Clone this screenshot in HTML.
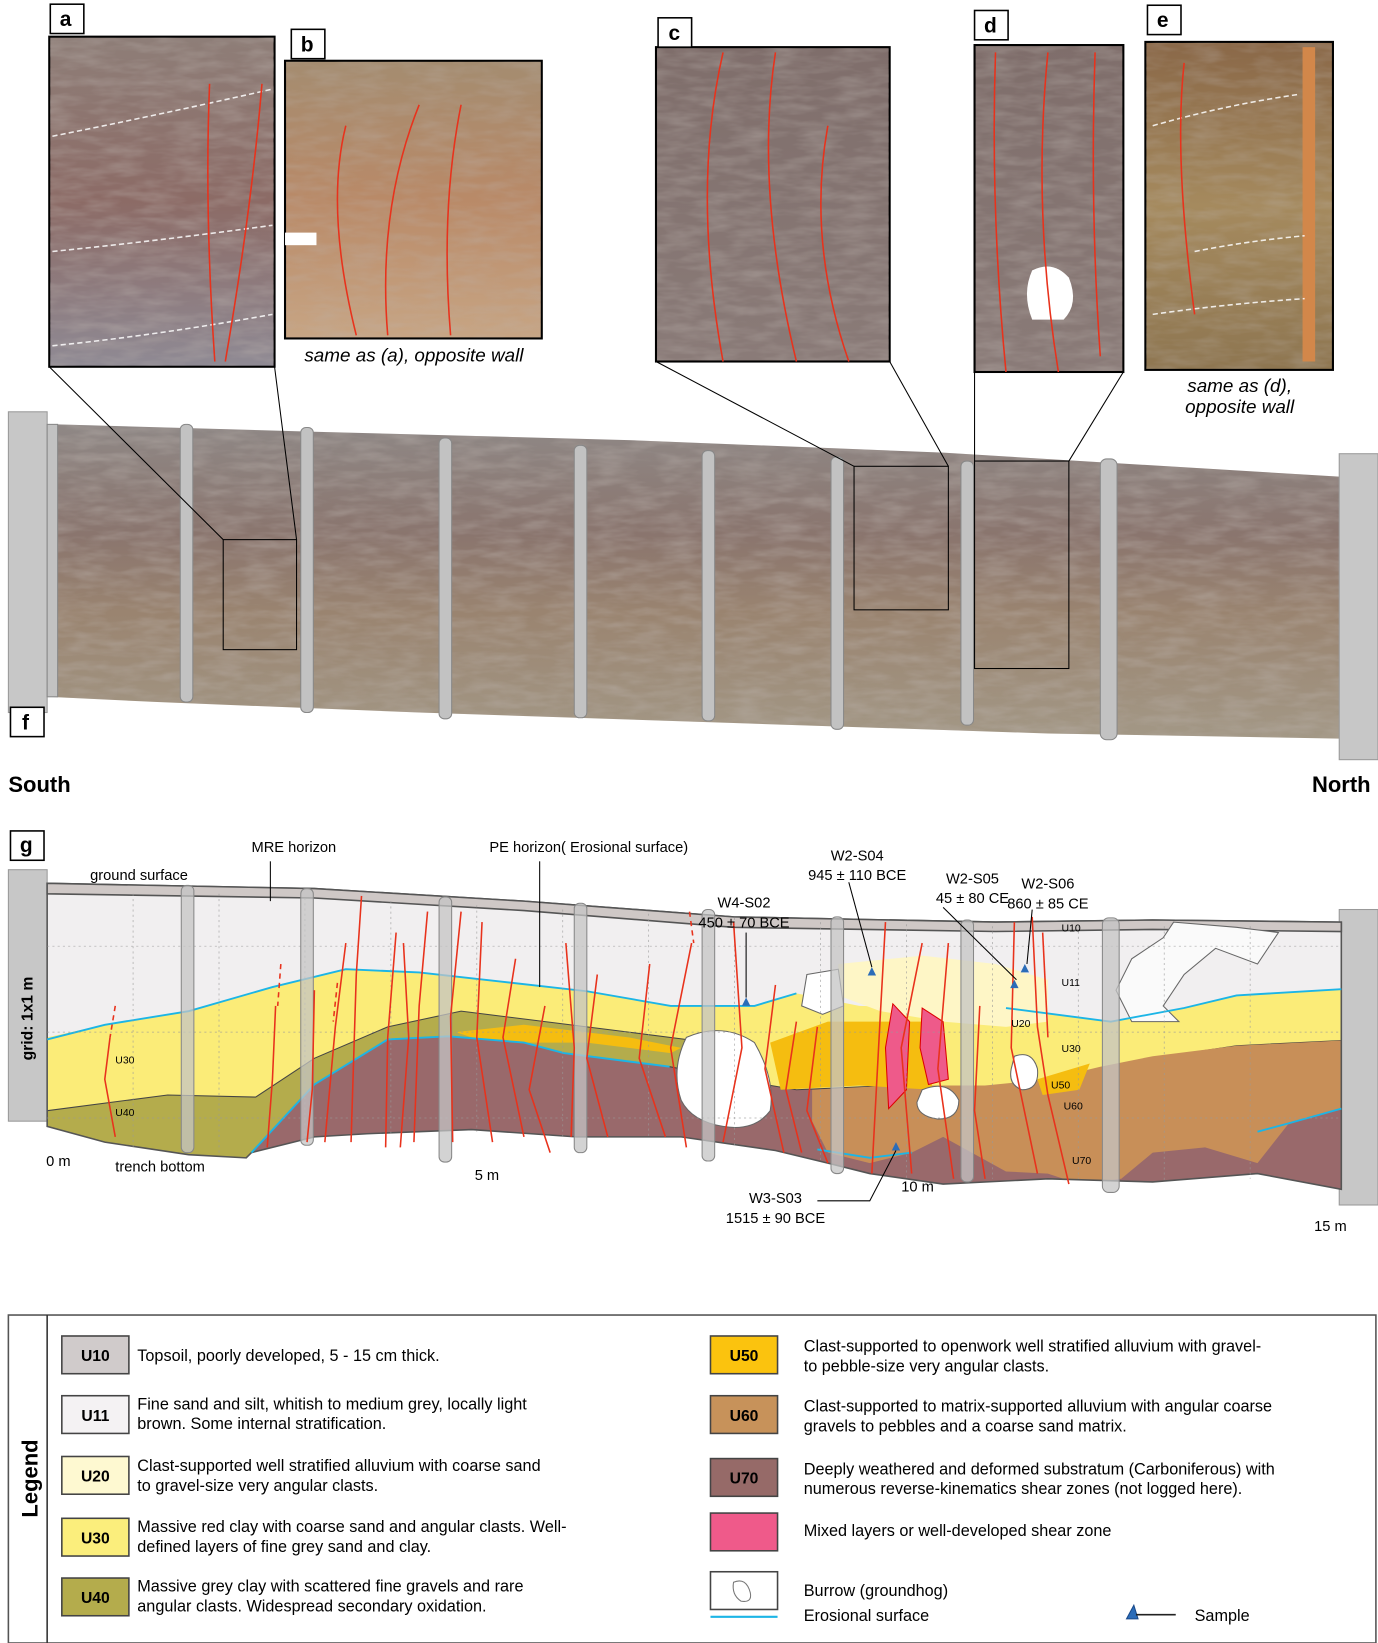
<!DOCTYPE html>
<html><head><meta charset="utf-8"><style>
html,body{margin:0;padding:0;background:#fff}
svg{display:block}
text{font-family:"Liberation Sans","DejaVu Sans",sans-serif}
</style></head><body>
<svg width="1378" height="1643" viewBox="0 0 1315 1568" preserveAspectRatio="none" xmlns="http://www.w3.org/2000/svg">
<defs>
<linearGradient id="ph" x1="0" y1="0" x2="0" y2="1">
<stop offset="0" stop-color="#8f8886"/><stop offset="0.35" stop-color="#8a756e"/><stop offset="0.6" stop-color="#9a8470"/><stop offset="1" stop-color="#a39886"/></linearGradient>
<linearGradient id="pa" x1="0" y1="0" x2="0" y2="1"><stop offset="0" stop-color="#8e7e78"/><stop offset="0.5" stop-color="#8c6b66"/><stop offset="1" stop-color="#8f8a94"/></linearGradient>
<linearGradient id="pb" x1="0" y1="0" x2="0" y2="1"><stop offset="0" stop-color="#a48c70"/><stop offset="0.5" stop-color="#b98a68"/><stop offset="1" stop-color="#c7a584"/></linearGradient>
<linearGradient id="pc" x1="0" y1="0" x2="0" y2="1"><stop offset="0" stop-color="#7f6e6b"/><stop offset="1" stop-color="#8a7b78"/></linearGradient>
<linearGradient id="pe" x1="0" y1="0" x2="0" y2="1"><stop offset="0" stop-color="#8a6848"/><stop offset="0.5" stop-color="#a58a5e"/><stop offset="1" stop-color="#8e7651"/></linearGradient>
<filter id="nz" x="0" y="0" width="100%" height="100%"><feTurbulence type="fractalNoise" baseFrequency="0.03 0.12" numOctaves="3" seed="4"/><feColorMatrix type="matrix" values="0 0 0 0 0.5  0 0 0 0 0.45  0 0 0 0 0.42  0 0 0 1.4 -0.5"/></filter>
<clipPath id="stripClip"><path d="M55 405 L300 412 L600 420 L900 432 L1280 455 L1285 705 L1000 700 L700 690 L400 680 L150 670 L45 665 Z"/></clipPath>
<clipPath id="secClip"><path d="M45 843 L300 848 L500 860 L700 875 L950 880 L1100 878 L1280 880 L1280 1135 L1200 1120 L1100 1128 L1000 1125 L900 1130 L830 1120 L790 1110 L740 1098 L650 1085 L550 1085 L450 1078 L350 1082 L300 1085 L240 1100 L235 1105 L180 1102 L100 1090 L45 1075 Z"/></clipPath>
</defs>

<!-- insets -->
<rect x="47" y="35" width="215" height="315" fill="url(#pa)" stroke="#000" stroke-width="2"/>
<rect x="48" y="36" width="213" height="313" filter="url(#nz)" opacity="0.5"/>
<rect x="272" y="58" width="245" height="265" fill="url(#pb)" stroke="#000" stroke-width="2"/>
<rect x="273" y="59" width="243" height="263" filter="url(#nz)" opacity="0.4"/>
<rect x="626" y="45" width="223" height="300" fill="url(#pc)" stroke="#000" stroke-width="2"/>
<rect x="627" y="46" width="221" height="298" filter="url(#nz)" opacity="0.5"/>
<rect x="930" y="43" width="142" height="312" fill="url(#pc)" stroke="#000" stroke-width="2"/>
<rect x="931" y="44" width="140" height="310" filter="url(#nz)" opacity="0.5"/>
<path d="M985 258 Q1005 248 1020 265 Q1030 290 1015 305 L985 305 Q975 280 985 258Z" fill="#fff"/>
<rect x="1093" y="40" width="179" height="313" fill="url(#pe)" stroke="#000" stroke-width="2"/>
<rect x="1094" y="41" width="177" height="311" filter="url(#nz)" opacity="0.4"/>
<rect x="1243" y="45" width="12" height="300" fill="#d2874a"/>
<rect x="272" y="222" width="30" height="12" fill="#fff"/>
<g fill="none" stroke="#fff" stroke-dasharray="5,3" stroke-width="1.5" opacity="0.85">
<path d="M50 130 Q150 110 260 85"/><path d="M50 240 Q150 230 260 215"/><path d="M50 330 Q150 320 260 300"/>
<path d="M1100 120 Q1170 100 1240 90"/><path d="M1140 240 Q1190 230 1245 225"/><path d="M1100 300 Q1170 290 1245 285"/>
</g>
<g fill="none" stroke="#e8321c" stroke-width="1.5">
<path d="M200 80 Q195 200 205 345"/><path d="M250 80 Q240 200 215 345"/>
<path d="M330 120 Q310 200 340 320"/><path d="M400 100 Q360 200 370 320"/><path d="M440 100 Q420 200 430 320"/>
<path d="M690 50 Q660 180 690 345"/><path d="M740 50 Q720 180 760 345"/><path d="M790 120 Q770 230 810 345"/>
<path d="M950 50 Q945 200 960 355"/><path d="M1000 50 Q985 200 1010 355"/><path d="M1045 50 Q1040 200 1050 340"/>
<path d="M1130 60 Q1120 150 1140 300"/>
</g>
<text x="395" y="345" font-size="18" font-style="italic" text-anchor="middle">same as (a), opposite wall</text>
<text x="1183" y="374" font-size="18" font-style="italic" text-anchor="middle">same as (d),</text>
<text x="1183" y="394" font-size="18" font-style="italic" text-anchor="middle">opposite wall</text>

<!-- photo strip f -->
<path d="M55 405 L300 412 L600 420 L900 432 L1280 455 L1285 705 L1000 700 L700 690 L400 680 L150 670 L45 665 Z" fill="url(#ph)"/>
<g clip-path="url(#stripClip)"><rect x="45" y="405" width="1240" height="300" filter="url(#nz)" opacity="0.55"/></g>
<rect x="8" y="393" width="37" height="287" fill="#c7c7c7" stroke="#999"/>
<rect x="1278" y="433" width="37" height="292" fill="#c7c7c7" stroke="#999"/>
<g fill="#c2c2c2" stroke="#888" stroke-width="1">
<rect x="45" y="405" width="10" height="260"/>
<rect x="172" y="405" width="12" height="265" rx="5"/>
<rect x="287" y="408" width="12" height="272" rx="5"/>
<rect x="419" y="418" width="12" height="268" rx="5"/>
<rect x="548" y="425" width="12" height="260" rx="5"/>
<rect x="670" y="430" width="12" height="258" rx="5"/>
<rect x="793" y="436" width="12" height="260" rx="5"/>
<rect x="917" y="440" width="12" height="252" rx="5"/>
<rect x="1050" y="438" width="16" height="268" rx="6"/>
</g>
<g fill="none" stroke="#000" stroke-width="1">
<path d="M47 350 L213 515 M262 350 L283 515"/><rect x="213" y="515" width="70" height="105"/>
<path d="M626 345 L815 445 M849 345 L905 445"/><rect x="815" y="445" width="90" height="137"/>
<path d="M930 355 L930 440 M1072 355 L1020 440"/><rect x="930" y="440" width="90" height="198"/>
</g>
<text x="8" y="756" font-size="21" font-weight="bold">South</text>
<text x="1252" y="756" font-size="21" font-weight="bold">North</text>

<!-- panel labels -->
<g font-weight="bold" font-size="20">
<rect x="48" y="4" width="32" height="28" fill="#fff" stroke="#000" stroke-width="1.5"/><text x="57" y="25">a</text>
<rect x="278" y="28" width="32" height="28" fill="#fff" stroke="#000" stroke-width="1.5"/><text x="287" y="49">b</text>
<rect x="628" y="17" width="32" height="28" fill="#fff" stroke="#000" stroke-width="1.5"/><text x="638" y="38">c</text>
<rect x="930" y="10" width="32" height="28" fill="#fff" stroke="#000" stroke-width="1.5"/><text x="939" y="31">d</text>
<rect x="1095" y="5" width="32" height="28" fill="#fff" stroke="#000" stroke-width="1.5"/><text x="1104" y="26">e</text>
<rect x="10" y="675" width="32" height="28" fill="#fff" stroke="#000" stroke-width="1.5"/><text x="21" y="696">f</text>
<rect x="10" y="793" width="32" height="28" fill="#fff" stroke="#000" stroke-width="1.5"/><text x="19" y="813">g</text>
</g>

<!-- log g -->
<rect x="8" y="830" width="37" height="240" fill="#c7c7c7" stroke="#999"/>
<rect x="1278" y="868" width="37" height="282" fill="#c7c7c7" stroke="#999"/>
<text transform="translate(31,1012) rotate(-90)" font-size="15" font-weight="bold">grid: 1x1 m</text>
<path d="M45 843 L300 848 L500 860 L700 875 L950 880 L1100 878 L1280 880 L1280 1135 L1200 1120 L1100 1128 L1000 1125 L900 1130 L830 1120 L790 1110 L740 1098 L650 1085 L550 1085 L450 1078 L350 1082 L300 1085 L240 1100 L235 1105 L180 1102 L100 1090 L45 1075 Z" fill="#f1eff0"/>
<g clip-path="url(#secClip)">
<path d="M45 990 L100 978 L180 965 L260 942 L330 925 L400 928 L480 937 L560 946 L640 960 L720 960 L760 948 L820 960 L900 962 L960 962 L1060 975 L1130 962 L1180 950 L1280 944 L1280 1200 L45 1200Z" fill="#fbec78"/>
<path d="M800 920 L880 912 L950 920 L1000 935 L1000 975 L960 980 L900 975 L840 965 L800 950Z" fill="#fef6c6"/>
<path d="M45 1060 L160 1045 L244 1047 L300 1010 L370 980 L440 965 L504 973 L600 985 L655 992 L700 1010 L700 1200 L45 1200Z" fill="#b4ac4c" stroke="#444" stroke-width="1"/>
<path d="M240 1100 L300 1035 L370 992 L428 989 L500 995 L538 1005 L639 1018 L700 1030 L760 1040 L850 1036 L950 1040 L1000 1040 L1050 1020 L1100 1010 L1180 998 L1280 993 L1280 1200 L240 1200Z" fill="#99696b" stroke="#444" stroke-width="1"/>
<path d="M775 1040 L850 1036 L940 1036 L1000 1030 L1050 1018 L1100 1008 L1180 998 L1280 993 L1280 1058 L1230 1072 L1200 1110 L1150 1095 L1100 1100 L1070 1125 L1030 1130 L1000 1120 L960 1118 L900 1085 L870 1100 L830 1110 L790 1100 L775 1070Z" fill="#c88f58"/>
<path d="M435 985 L500 978 L600 990 L650 1000 L640 1005 L560 995 L500 995 L450 990Z" fill="#f5bd10"/>
<path d="M735 995 L790 975 L880 975 L890 1040 L820 1036 L745 1040Z" fill="#f5bd10"/>
<path d="M990 1030 L1040 1015 L1030 1040 L995 1045Z" fill="#f5bd10"/>
</g>
<path d="M45 843 L300 848 L500 860 L700 875 L950 880 L1100 878 L1280 880 L1280 1135 L1200 1120 L1100 1128 L1000 1125 L900 1130 L830 1120 L790 1110 L740 1098 L650 1085 L550 1085 L450 1078 L350 1082 L300 1085 L240 1100 L235 1105 L180 1102 L100 1090 L45 1075 Z" fill="none" stroke="#555" stroke-width="1.5"/>
<path d="M45 843 L300 848 L500 860 L700 875 L950 880 L1100 878 L1280 880 L1280 889 L1100 887 L950 889 L700 885 L500 869 L300 857 L45 853Z" fill="#cfc8c6" stroke="#555" stroke-width="1.5"/>
<path d="M852 958 L868 975 L865 1040 L848 1058 L845 1000Z" fill="#ee5a8a" stroke="#d00" stroke-width="1"/>
<path d="M880 962 L900 975 L905 1030 L886 1035 L878 1000Z" fill="#ee5a8a" stroke="#d00" stroke-width="1"/>
<g fill="#fff" stroke="#666" stroke-width="1">
<path d="M655 990 Q690 975 720 995 Q740 1030 735 1060 Q720 1080 690 1075 Q660 1070 650 1050 Q640 1020 655 990Z"/>
<path d="M770 930 L800 925 L805 960 L785 968 L765 960Z"/>
<path d="M880 1040 Q905 1030 915 1050 Q915 1068 895 1068 Q875 1065 875 1052Z"/>
<path d="M968 1008 Q985 1002 990 1020 Q992 1040 975 1040 Q962 1035 965 1020Z"/>
<path d="M1120 880 L1180 885 L1220 890 L1200 920 L1160 905 L1130 930 L1110 960 L1125 975 L1080 975 L1065 945 L1080 915 L1110 895Z" fill="#fafafa"/>
</g>
<g fill="none" stroke="#1cb5e6" stroke-width="1.8">
<path d="M45 992 L100 978 L180 965 L260 942 L330 925 L400 928 L480 937 L560 946 L640 960 L720 960 L760 948"/>
<path d="M960 962 L1060 975 L1130 962 L1180 950 L1280 944"/>
<path d="M240 1100 L300 1035 L370 992 L428 989 L500 995 L538 1005 L639 1018"/>
<path d="M1200 1080 L1230 1072 L1280 1058"/>
<path d="M780 1097 L830 1105 L870 1100"/>
</g>
<g stroke="#999" stroke-width="0.7" stroke-dasharray="2,3" fill="none" opacity="0.8">
<path d="M127 853V1095 M209 853V1100 M291 857V1090 M373 860V1085 M455 864V1080 M537 868V1085 M619 872V1085 M701 876V1095 M783 880V1110 M865 882V1125 M947 884V1125 M1029 884V1125 M1111 884V1128 M1193 884V1125"/>
<path d="M45 903H1280 M45 985H1280 M45 1067H1280"/>
</g>
<g fill="#c4c4c4" fill-opacity="0.75" stroke="#888" stroke-width="1">
<rect x="173" y="845" width="12" height="255" rx="5"/>
<rect x="287" y="848" width="12" height="245" rx="5"/>
<rect x="419" y="856" width="12" height="253" rx="5"/>
<rect x="548" y="862" width="12" height="238" rx="5"/>
<rect x="670" y="868" width="12" height="240" rx="5"/>
<rect x="793" y="875" width="12" height="245" rx="5"/>
<rect x="917" y="878" width="12" height="250" rx="5"/>
<rect x="1052" y="876" width="16" height="262" rx="6"/>
</g>
<g fill="none" stroke="#e8321c" stroke-width="1.5">
<path d="M105 990 L100 1030 L110 1085"/><path d="M263 960 L260 1030 L255 1095"/><path d="M300 945 L298 1040 L293 1090"/>
<path d="M330 900 L320 980 L310 1090"/><path d="M345 855 L340 930 L335 1090"/><path d="M378 890 L370 990 L368 1095"/>
<path d="M385 900 L390 990 L382 1095"/><path d="M408 870 L400 960 L395 1090"/><path d="M440 870 L430 970 L432 1090"/>
<path d="M460 880 L455 990 L470 1090"/><path d="M492 915 L480 990 L500 1085"/><path d="M520 960 L505 1040 L525 1100"/>
<path d="M540 900 L548 1000 L545 1085"/><path d="M570 930 L560 1010 L580 1085"/><path d="M620 920 L610 1010 L635 1085"/>
<path d="M660 900 L640 1000 L655 1095"/><path d="M700 880 L708 1000 L690 1090"/><path d="M740 940 L730 1020 L748 1100"/>
<path d="M760 975 L750 1040 L765 1100"/><path d="M780 980 L770 1060 L790 1110"/><path d="M845 880 L840 970 L832 1120"/>
<path d="M880 900 L860 1000 L870 1120"/><path d="M905 900 L895 1020 L910 1125"/><path d="M935 960 L930 1060 L940 1125"/>
<path d="M968 880 L965 1000 L990 1120"/><path d="M985 875 L990 980 L1000 1045 L1020 1130"/><path d="M995 890 L1000 990"/>
</g>
<g fill="none" stroke="#e8321c" stroke-width="1.5" stroke-dasharray="5,4">
<path d="M110 960 L105 990"/><path d="M268 920 L265 960"/><path d="M322 938 L318 975"/><path d="M658 870 L662 900"/>
</g>
<g fill="#2b6cb8"><path d="M712 952 L716 960 L708 960Z"/><path d="M832 923 L836 931 L828 931Z"/><path d="M978 920 L982 928 L974 928Z"/><path d="M968 935 L972 943 L964 943Z"/><path d="M855 1090 L859 1098 L851 1098Z"/></g>
<g fill="none" stroke="#000" stroke-width="1">
<path d="M258 822 L258 860"/><path d="M515 822 L515 942"/><path d="M712 890 L712 952"/>
<path d="M810 842 L832 923"/><path d="M900 866 L970 935"/><path d="M985 868 L980 920"/>
<path d="M780 1146 L830 1146 L855 1098"/>
</g>
<g font-size="14">
<text x="86" y="840">ground surface</text>
<text x="240" y="813">MRE horizon</text>
<text x="467" y="813">PE horizon( Erosional surface)</text>
<text x="710" y="866" text-anchor="middle">W4-S02</text><text x="710" y="885" text-anchor="middle">450 ± 70 BCE</text>
<text x="818" y="821" text-anchor="middle">W2-S04</text><text x="818" y="840" text-anchor="middle">945 ± 110 BCE</text>
<text x="928" y="843" text-anchor="middle">W2-S05</text><text x="928" y="862" text-anchor="middle">45 ± 80 CE</text>
<text x="1000" y="848" text-anchor="middle">W2-S06</text><text x="1000" y="867" text-anchor="middle">860 ± 85 CE</text>
<text x="740" y="1148" text-anchor="middle">W3-S03</text><text x="740" y="1167" text-anchor="middle">1515 ± 90 BCE</text>
<text x="44" y="1113">0 m</text><text x="110" y="1118">trench bottom</text>
<text x="453" y="1126">5 m</text><text x="860" y="1137">10 m</text><text x="1254" y="1175">15 m</text>
</g>
<g font-size="10">
<text x="1013" y="889">U10</text><text x="1013" y="941">U11</text><text x="965" y="980">U20</text><text x="1013" y="1004">U30</text>
<text x="1003" y="1039">U50</text><text x="1015" y="1059">U60</text><text x="1023" y="1111">U70</text>
<text x="110" y="1015">U30</text><text x="110" y="1065">U40</text>
</g>

<!-- legend -->
<rect x="8" y="1255" width="1305" height="313" fill="#fff" stroke="#555" stroke-width="1.5"/>
<line x1="45" y1="1255" x2="45" y2="1568" stroke="#333" stroke-width="1.5"/>
<text transform="translate(36,1411) rotate(-90)" font-size="21" font-weight="bold" text-anchor="middle">Legend</text>
<g stroke="#444" stroke-width="1.5">
<rect x="59" y="1275" width="64" height="36" fill="#d0cbcb"/>
<rect x="59" y="1332" width="64" height="36" fill="#f4f2f3"/>
<rect x="59" y="1390" width="64" height="36" fill="#fef9d1"/>
<rect x="59" y="1449" width="64" height="36" fill="#fbee7c"/>
<rect x="59" y="1506" width="64" height="36" fill="#b4ac4c"/>
<rect x="678" y="1275" width="64" height="36" fill="#fbc30e"/>
<rect x="678" y="1332" width="64" height="36" fill="#c7925a"/>
<rect x="678" y="1392" width="64" height="36" fill="#966a68"/>
<rect x="678" y="1444" width="64" height="36" fill="#ef5a8a"/>
<rect x="678" y="1500" width="64" height="36" fill="#fff"/>
</g>
<path d="M700 1510 Q712 1505 716 1520 Q718 1530 707 1528 Q698 1522 700 1510Z" fill="none" stroke="#777"/>
<g font-size="15" font-weight="bold" text-anchor="middle">
<text x="91" y="1299">U10</text><text x="91" y="1356">U11</text><text x="91" y="1414">U20</text><text x="91" y="1473">U30</text><text x="91" y="1530">U40</text>
<text x="710" y="1299">U50</text><text x="710" y="1356">U60</text><text x="710" y="1416">U70</text>
</g>
<g font-size="15.5">
<text x="131" y="1299">Topsoil, poorly developed, 5 - 15 cm thick.</text>
<text x="131" y="1345">Fine sand and silt, whitish to medium grey, locally light</text>
<text x="131" y="1364">brown. Some internal stratification.</text>
<text x="131" y="1404">Clast-supported well stratified alluvium with coarse sand</text>
<text x="131" y="1423">to gravel-size very angular clasts.</text>
<text x="131" y="1462">Massive red clay with coarse sand and angular clasts. Well-</text>
<text x="131" y="1481">defined layers of fine grey sand and clay.</text>
<text x="131" y="1519">Massive grey clay with scattered fine gravels and rare</text>
<text x="131" y="1538">angular clasts. Widespread secondary oxidation.</text>
<text x="767" y="1290">Clast-supported to openwork well stratified alluvium with gravel-</text>
<text x="767" y="1309">to pebble-size very angular clasts.</text>
<text x="767" y="1347">Clast-supported to matrix-supported alluvium with angular coarse</text>
<text x="767" y="1366">gravels to pebbles and a coarse sand matrix.</text>
<text x="767" y="1407">Deeply weathered and deformed substratum (Carboniferous) with</text>
<text x="767" y="1426">numerous reverse-kinematics shear zones (not logged here).</text>
<text x="767" y="1466">Mixed layers or well-developed shear zone</text>
<text x="767" y="1523">Burrow (groundhog)</text>
<text x="767" y="1547">Erosional surface</text>
<text x="1140" y="1547">Sample</text>
</g>
<line x1="678" y1="1543" x2="742" y2="1543" stroke="#1cb5e6" stroke-width="2"/>
<path d="M1075 1545 L1082 1532 L1086 1545Z" fill="#2b6cb8" stroke="#1a4a8a"/>
<line x1="1084" y1="1541" x2="1122" y2="1541" stroke="#222" stroke-width="1.5"/>
</svg>
</body></html>
